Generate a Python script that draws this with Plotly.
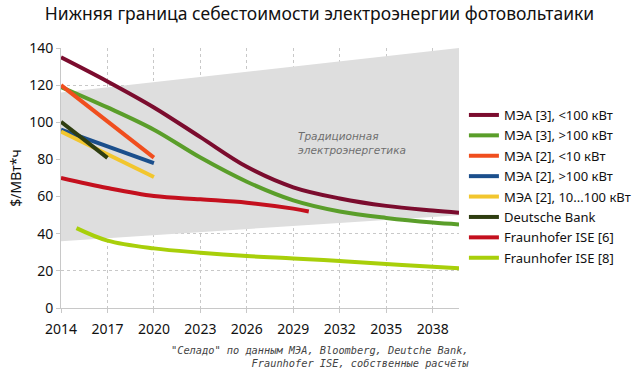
import plotly.graph_objects as go

years = [2014, 2017, 2020, 2023, 2026, 2029, 2032, 2035, 2038, 2039.7]
iea3_small = [135, 122, 108, 92, 76, 65, 59, 55, 52.5, 51.3]
iea3_large = [119, 108, 96, 81, 68, 58, 52, 48.5, 46, 45]

years_short = [2014, 2017, 2020]
iea2_small = [120, 100.5, 81]
iea2_large = [96, 87, 78]
iea2_mid = [95, 82.5, 70.5]

years_db = [2014, 2017]
deutsche_bank = [100.3, 80.8]

years_f6 = [2014, 2017, 2020, 2023, 2026, 2029, 2030]
fraunhofer6 = [70, 64.6, 60.3, 58.5, 56.7, 53.5, 52]

years_f8 = [2015, 2017, 2020, 2023, 2026, 2029, 2032, 2035, 2038, 2039.7]
fraunhofer8 = [43, 36.3, 32.1, 29.8, 28, 26.7, 25.3, 23.7, 22.2, 21.4]

band_x = [2014, 2039.7]
band_low = [36, 50]
band_high = [116, 140]

x_ticks = [2014, 2017, 2020, 2023, 2026, 2029, 2032, 2035, 2038]
y_ticks = [0, 20, 40, 60, 80, 100, 120, 140]

fig = go.Figure()

# grey band (traditional power)
fig.add_trace(go.Scatter(
    x=band_x + band_x[::-1], y=band_high + band_low[::-1],
    fill="toself", fillcolor="#dedede", line=dict(width=0),
    mode="lines", showlegend=False, hoverinfo="skip"))

series = [
    ("МЭА [3], <100 кВт", years, iea3_small, "#7b0c2e", "spline"),
    ("МЭА [3], >100 кВт", years, iea3_large, "#5a9e2a", "spline"),
    ("МЭА [2], <10 кВт", years_short, iea2_small, "#f04e1e", "linear"),
    ("МЭА [2], >100 кВт", years_short, iea2_large, "#1b4f8c", "linear"),
    ("МЭА [2], 10...100 кВт", years_short, iea2_mid, "#f2c62e", "linear"),
    ("Deutsche Bank", years_db, deutsche_bank, "#2e3d10", "linear"),
    ("Fraunhofer ISE [6]", years_f6, fraunhofer6, "#c4101e", "spline"),
    ("Fraunhofer ISE [8]", years_f8, fraunhofer8, "#a8cf0a", "spline"),
]
for name, xs, ys, color, shape in series:
    fig.add_trace(go.Scatter(
        x=xs, y=ys, name=name, mode="lines", legendgroup=name,
        line=dict(color=color, width=4, shape=shape)))

fig.add_annotation(
    x=2029.2, y=89, xref="x", yref="y",
    text="<i>Традиционная<br>электроэнергетика</i>",
    showarrow=False, xanchor="left", yanchor="middle", align="left",
    font=dict(family="DejaVu Sans", size=10.5, color="#6e6e6e"))

fig.add_annotation(
    x=1.030, y=-0.13, xref="paper", yref="paper",
    text="<i>\"Селадо\" по данным МЭА, Bloomberg, Deutche Bank,<br>Fraunhofer ISE, собственные расчёты</i>",
    showarrow=False, xanchor="right", yanchor="top", align="right",
    font=dict(family="DejaVu Sans Mono", size=10.3, color="#444"))

fig.update_layout(
    width=639, height=375,
    margin=dict(l=61, r=180, t=48, b=67, autoexpand=False),
    paper_bgcolor="white", plot_bgcolor="white",
    title=dict(text="Нижняя граница себестоимости электроэнергии фотовольтаики",
               x=0.5, xanchor="center", y=0.963, yanchor="middle",
               font=dict(family="Noto Sans", size=17.5, color="#111")),
    font=dict(family="Noto Sans", size=14, color="#111"),
    legend=dict(xref="container", yref="container",
                x=0.726, y=1 - 100 / 375, xanchor="left", yanchor="top",
                font=dict(size=13), bgcolor="rgba(0,0,0,0)",
                traceorder="grouped", tracegroupgap=0.5),
    showlegend=True,
)
fig.update_xaxes(range=[2014, 2039.7], tickvals=x_ticks,
                 showgrid=True, gridcolor="#c8c8c8", griddash="dot",
                 showline=True, linecolor="#c8c8c8", linewidth=1,
                 ticks="outside", ticklen=4, tickcolor="#c8c8c8",
                 ticklabelstandoff=4,
                 zeroline=False, tickfont=dict(size=14))
fig.update_yaxes(range=[0, 140], tickvals=y_ticks,
                 showgrid=True, gridcolor="#c8c8c8", griddash="dot",
                 showline=True, linecolor="#c8c8c8", linewidth=1,
                 ticks="outside", ticklen=4, tickcolor="#c8c8c8",
                 zeroline=False, tickfont=dict(size=14),
                 title=dict(text="$/МВт*ч", font=dict(size=14), standoff=4))

fig.write_html("out.html", config={"displayModeBar": False},
               post_script="document.body.style.margin='0';")
